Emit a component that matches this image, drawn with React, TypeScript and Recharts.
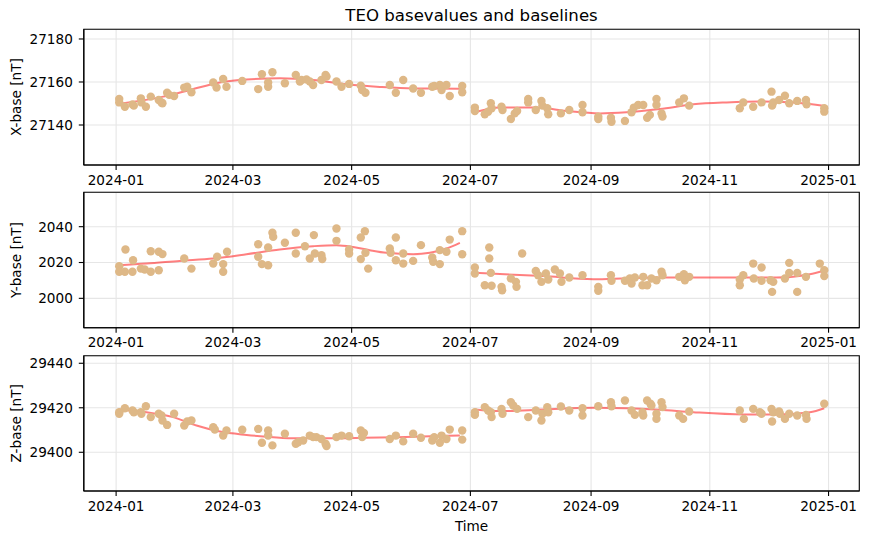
import React from 'react';
import { ComposedChart, Scatter, Line, XAxis, YAxis, CartesianGrid, ReferenceArea } from 'recharts';

// x values are days since 2024-01-01
const xTickDays = [0, 60, 121, 182, 244, 305, 366];
const xTickLabels = ['2024-01', '2024-03', '2024-05', '2024-07', '2024-09', '2024-11', '2025-01'];
const xDomain = [-16.6, 381.8];

// ---- X-base ----
const xPtDays = [1.6,1.6,4.5,8.4,9.1,12.7,13.0,15.3,17.8,21.9,23.3,23.8,26.2,27.3,29.8,35.0,36.5,38.7,49.9,51.6,55.0,56.7,64.8,73.0,74.9,78.1,78.1,80.3,86.7,92.3,94.4,95.2,97.8,99.5,101.2,105.5,107.6,108.1,113.2,115.8,119.7,125.7,126.4,128.1,140.6,143.7,147.5,152.6,156.6,162.4,163.4,166.3,167.2,169.7,171.4,177.8,177.8,
  184.3,184.3,189.4,191.1,192.5,192.9,198.0,198.5,202.8,204.8,206.0,211.7,211.7,215.6,218.5,219.0,221.5,222.0,228.5,232.8,239.6,239.6,247.7,247.7,254.2,254.5,261.4,264.8,266.0,268.2,270.8,272.8,274.2,277.6,277.6,280.2,280.7,289.3,291.7,294.4,320.4,322.2,327.3,331.6,336.7,337.0,337.6,340.6,343.6,345.8,349.9,354.4,354.7,363.8,363.8];
const xPtVals = [27152.1,27150.5,27148.5,27149.6,27149.0,27152.4,27150.5,27148.5,27153.2,27151.6,27150.5,27150.1,27155.0,27154.0,27153.5,27157.4,27157.8,27155.2,27159.8,27157.4,27161.4,27157.8,27160.5,27156.7,27163.6,27157.8,27159.8,27164.5,27159.4,27163.3,27160.2,27160.9,27161.2,27160.2,27158.6,27160.9,27163.3,27162.5,27160.2,27157.8,27159.1,27158.3,27156.3,27155.0,27158.6,27155.0,27160.9,27157.0,27155.0,27157.8,27158.1,27158.6,27156.3,27158.6,27153.5,27158.1,27155.2,
  27148.1,27146.5,27145.0,27146.2,27150.1,27147.8,27148.5,27147.0,27142.8,27145.4,27146.5,27152.1,27150.5,27147.0,27151.2,27149.0,27147.8,27145.0,27145.4,27147.0,27149.3,27145.9,27143.9,27142.8,27143.4,27141.5,27141.9,27145.9,27148.1,27149.3,27149.3,27143.4,27144.7,27152.1,27149.3,27145.4,27143.9,27150.5,27152.4,27149.0,27147.8,27150.5,27148.5,27150.5,27155.5,27149.0,27150.5,27151.6,27153.6,27150.1,27151.2,27151.6,27149.6,27147.8,27146.2];
const xLine1Days = [1.05,24.2,37.9,53.3,67.0,84.1,101.2,118.4,135.5,152.6,176.6];
const xLine1Vals = [27149.8,27153.2,27156.3,27159.8,27161.2,27161.7,27160.9,27158.9,27157.7,27157.0,27156.9];
const xLine2Days = [184.3,197.1,216.0,231.4,248.5,262.2,279.3,296.5,313.6,330.7,347.8,363.3];
const xLine2Vals = [27145.9,27148.1,27148.1,27146.5,27145.4,27145.9,27147.4,27149.6,27150.5,27150.9,27150.5,27149.0];
const xTicksY = [27140, 27160, 27180];

// ---- Y-base ----
const yPtDays = [1.6,1.6,4.5,4.8,8.4,8.7,12.7,14.7,17.8,17.8,21.9,21.9,23.8,35.0,38.7,49.9,51.9,55.0,55.0,57.0,73.0,73.0,74.9,78.1,78.1,80.3,80.7,86.7,92.3,92.3,97.0,99.5,101.6,102.1,105.5,105.9,113.2,113.2,119.7,119.7,125.7,125.7,127.8,128.1,129.5,140.6,141.0,143.7,143.7,147.5,147.5,152.6,156.6,162.4,162.9,166.3,166.3,169.7,171.4,177.8,177.8,
  184.3,184.3,189.4,191.7,191.7,192.5,192.9,198.0,198.3,202.8,205.4,205.7,208.6,215.6,216.8,218.5,220.8,222.0,225.4,228.0,228.8,232.8,239.6,247.7,247.7,254.2,254.5,261.4,263.9,264.8,266.5,270.4,270.8,272.8,275.0,277.6,280.2,280.7,289.3,291.7,292.2,294.4,320.4,320.4,322.2,327.3,327.6,331.6,331.6,336.2,337.0,337.6,343.6,345.8,345.8,349.9,349.9,354.4,361.5,363.8,363.8];
const yPtVals = [2017.9,2014.8,2014.8,2027.3,2014.8,2021.3,2016.6,2016.1,2026.3,2014.8,2026.0,2015.7,2024.7,2022.2,2016.6,2019.4,2023.2,2019.1,2014.8,2026.0,2030.2,2023.2,2019.1,2028.4,2018.5,2036.6,2034.3,2031.0,2036.6,2025.0,2029.1,2022.2,2035.3,2025.0,2024.1,2021.9,2039.0,2032.1,2027.3,2025.0,2034.0,2021.9,2037.5,2025.4,2016.6,2027.8,2025.4,2034.0,2021.3,2025.0,2019.4,2020.9,2029.7,2022.8,2020.4,2026.9,2019.1,2026.0,2032.8,2037.5,2024.6,
  2017.2,2013.9,2007.3,2028.4,2022.2,2014.2,2007.0,2006.4,2004.5,2011.1,2009.2,2006.4,2025.0,2015.3,2012.9,2009.2,2013.9,2010.5,2016.1,2013.9,2009.2,2011.6,2012.9,2006.4,2004.2,2012.9,2009.8,2009.8,2011.1,2008.3,2011.6,2007.3,2012.0,2007.3,2011.1,2010.1,2014.8,2012.9,2012.0,2013.5,2010.1,2012.0,2007.3,2010.5,2012.9,2019.4,2011.1,2017.2,2009.8,2010.1,2003.6,2009.2,2011.1,2019.8,2014.2,2014.2,2003.6,2012.0,2019.4,2015.7,2012.4];
const yLine1Days = [1.05,15.6,32.7,49.9,67.0,84.1,101.2,113.2,121.8,130.3,138.9,152.6,161.2,169.7,176.6];
const yLine1Vals = [2018.5,2019.4,2020.9,2022.2,2024.6,2027.3,2029.1,2029.7,2028.7,2026.9,2025.4,2024.6,2025.4,2027.8,2031.0];
const yLine2Days = [184.3,219.4,245.1,262.2,279.3,313.6,339.3,356.4,363.3];
const yLine2Vals = [2014.2,2012.4,2010.7,2011.2,2011.6,2011.6,2011.6,2013.5,2015.3];
const yTicksY = [2000, 2020, 2040];

// ---- Z-base ----
const zPtDays = [1.6,1.6,4.5,8.4,9.1,12.7,13.0,15.3,17.8,21.9,23.3,23.8,26.2,29.8,35.0,36.5,38.7,49.9,50.7,55.0,56.7,64.8,73.0,74.9,78.1,78.1,80.3,86.7,92.3,93.5,96.1,99.5,101.2,102.9,105.5,107.6,108.1,113.2,115.8,119.7,125.7,126.4,127.3,140.6,143.7,147.5,152.6,156.6,162.4,163.4,166.3,167.2,169.7,171.4,177.8,177.8,
  184.3,184.3,189.4,191.1,192.5,192.9,198.0,198.5,202.8,204.0,206.0,211.7,215.6,218.5,219.0,221.5,222.0,228.5,232.8,239.6,239.6,247.7,254.2,254.5,261.4,264.8,266.5,270.4,270.8,272.8,274.5,275.0,277.6,277.6,280.2,280.7,289.3,291.3,294.4,320.4,322.5,327.3,330.7,331.6,336.7,337.0,337.6,340.6,341.0,343.6,345.8,349.9,354.4,354.7,363.8];
const zPtVals = [29418.0,29417.3,29419.8,29418.8,29418.0,29418.0,29417.3,29420.7,29415.8,29417.3,29416.5,29414.3,29412.3,29417.3,29412.0,29413.8,29414.3,29411.3,29410.2,29407.5,29409.8,29410.1,29410.5,29404.3,29409.8,29407.5,29403.1,29408.3,29403.8,29404.5,29405.3,29407.5,29406.8,29406.8,29406.0,29403.8,29402.8,29406.8,29407.5,29407.2,29409.8,29406.8,29408.7,29406.0,29407.5,29404.9,29408.3,29406.5,29405.3,29406.8,29404.3,29407.5,29406.0,29410.2,29409.8,29405.7,
  29418.0,29416.8,29420.3,29418.8,29418.0,29415.8,29419.5,29417.3,29422.5,29421.0,29419.5,29415.8,29418.8,29414.3,29417.3,29420.3,29418.0,29420.6,29418.8,29419.8,29416.5,29420.7,29422.5,29420.7,29423.3,29418.8,29416.8,29418.0,29416.5,29423.3,29421.8,29421.0,29415.0,29417.3,29422.5,29420.3,29416.5,29415.0,29418.3,29418.8,29415.0,29419.5,29418.0,29417.3,29419.5,29413.8,29418.0,29418.3,29417.3,29415.0,29417.3,29416.5,29416.8,29415.0,29421.8];
const zLine1Days = [1.05,15.6,29.3,41.3,53.3,67.0,80.7,92.7,109.8,126.9,144.0,161.2,176.6];
const zLine1Vals = [29419.2,29418.0,29415.8,29412.0,29409.3,29407.8,29406.8,29406.3,29406.3,29406.5,29406.8,29407.2,29407.5];
const zLine2Days = [184.3,197.1,219.4,245.1,262.2,279.3,296.5,322.2,339.3,356.4,363.8];
const zLine2Vals = [29419.2,29418.5,29419.2,29420.0,29419.8,29419.1,29418.0,29417.0,29417.0,29418.0,29419.8];
const zTicksY = [29400, 29420, 29440];

const zip = (d: number[], v: number[]) => d.map((day, i) => ({ d: day, v: v[i] }));

const FONT = 'DejaVu Sans, sans-serif';
const W = 870;
const H = 540;
const PLOT_LEFT = 83.8;
const PLOT_RIGHT = 859.3;
const XAXIS_H = 30;

type PanelProps = {
  top: number;
  bottom: number;
  yDomain: [number, number];
  yTicks: number[];
  points: { d: number; v: number }[];
  line1: { d: number; v: number }[];
  line2: { d: number; v: number }[];
};

const Dot = (props: any) => {
  const { cx, cy } = props;
  if (cx == null || cy == null) return null;
  return <circle cx={cx} cy={cy} r={4.2} fill="#deb887" />;
};

function Panel({ top, bottom, yDomain, yTicks, points, line1, line2 }: PanelProps) {
  return (
    <div style={{ position: 'absolute', left: 0, top: 0, width: W, height: H }}>
      <ComposedChart
        width={W}
        height={H}
        data={points}
        margin={{ top, bottom: H - XAXIS_H - bottom, left: 0, right: W - PLOT_RIGHT }}
      >
        <CartesianGrid stroke="#e6e6e6" strokeWidth={1.1} />
        <XAxis
          dataKey="d"
          type="number"
          domain={xDomain}
          allowDataOverflow
          ticks={xTickDays}
          tickFormatter={(t: number) => xTickLabels[xTickDays.indexOf(t)] ?? ''}
          height={XAXIS_H}
          tickSize={5}
          tickMargin={5}
          interval={0}
          axisLine={{ stroke: '#000', strokeWidth: 1.1 }}
          tickLine={{ stroke: '#000', strokeWidth: 1.1 }}
          tick={{ fill: '#000', fontSize: 13.6, fontFamily: FONT }}
        />
        <YAxis
          dataKey="v"
          type="number"
          domain={yDomain}
          allowDataOverflow
          ticks={yTicks}
          width={PLOT_LEFT}
          tickSize={5}
          tickMargin={6}
          interval={0}
          axisLine={{ stroke: '#000', strokeWidth: 1.1 }}
          tickLine={{ stroke: '#000', strokeWidth: 1.1 }}
          tick={{ fill: '#000', fontSize: 13.6, fontFamily: FONT }}
        />
        <Scatter data={points} dataKey="v" shape={Dot} isAnimationActive={false} />
        <Line data={line1} dataKey="v" type="monotone" stroke="#ff0000" strokeOpacity={0.5} strokeWidth={2} dot={false} activeDot={false} isAnimationActive={false} />
        <Line data={line2} dataKey="v" type="monotone" stroke="#ff0000" strokeOpacity={0.5} strokeWidth={2} dot={false} activeDot={false} isAnimationActive={false} />
        <ReferenceArea x1={xDomain[0]} x2={xDomain[1]} y1={yDomain[0]} y2={yDomain[1]} fill="none" fillOpacity={0} stroke="#000" strokeWidth={1.1} ifOverflow="visible" />
      </ComposedChart>
    </div>
  );
}

export default function App() {
  const panels: PanelProps[] = [
    { top: 29.3, bottom: 165, yDomain: [27121.4, 27184.5], yTicks: xTicksY, points: zip(xPtDays, xPtVals), line1: zip(xLine1Days, xLine1Vals), line2: zip(xLine2Days, xLine2Vals) },
    { top: 192.3, bottom: 327.7, yDomain: [1983.6, 2059.2], yTicks: yTicksY, points: zip(yPtDays, yPtVals), line1: zip(yLine1Days, yLine1Vals), line2: zip(yLine2Days, yLine2Vals) },
    { top: 355.7, bottom: 491, yDomain: [29382.6, 29443.4], yTicks: zTicksY, points: zip(zPtDays, zPtVals), line1: zip(zLine1Days, zLine1Vals), line2: zip(zLine2Days, zLine2Vals) },
  ];
  const yLabels = ['X-base [nT]', 'Y-base [nT]', 'Z-base [nT]'];
  const cx = (PLOT_LEFT + PLOT_RIGHT) / 2;
  return (
    <div style={{ position: 'absolute', left: 0, top: 0, width: W, height: H, background: '#fff' }}>
      {panels.map((p, i) => (
        <Panel key={i} {...p} />
      ))}
      <svg width={W} height={H} style={{ position: 'absolute', left: 0, top: 0, pointerEvents: 'none' }}>
        <text x={cx} y={20.7} textAnchor="middle" fontFamily={FONT} fontSize={16.6} fill="#000">
          TEO basevalues and baselines
        </text>
        {panels.map((p, i) => {
          const cy = (p.top + p.bottom) / 2;
          return (
            <text key={i} x={20.6} y={cy} textAnchor="middle" fontFamily={FONT} fontSize={13.6} fill="#000" transform={`rotate(-90 20.6 ${cy})`}>
              {yLabels[i]}
            </text>
          );
        })}
        <text x={cx} y={531} textAnchor="middle" fontFamily={FONT} fontSize={13.6} fill="#000">
          Time
        </text>
      </svg>
    </div>
  );
}
